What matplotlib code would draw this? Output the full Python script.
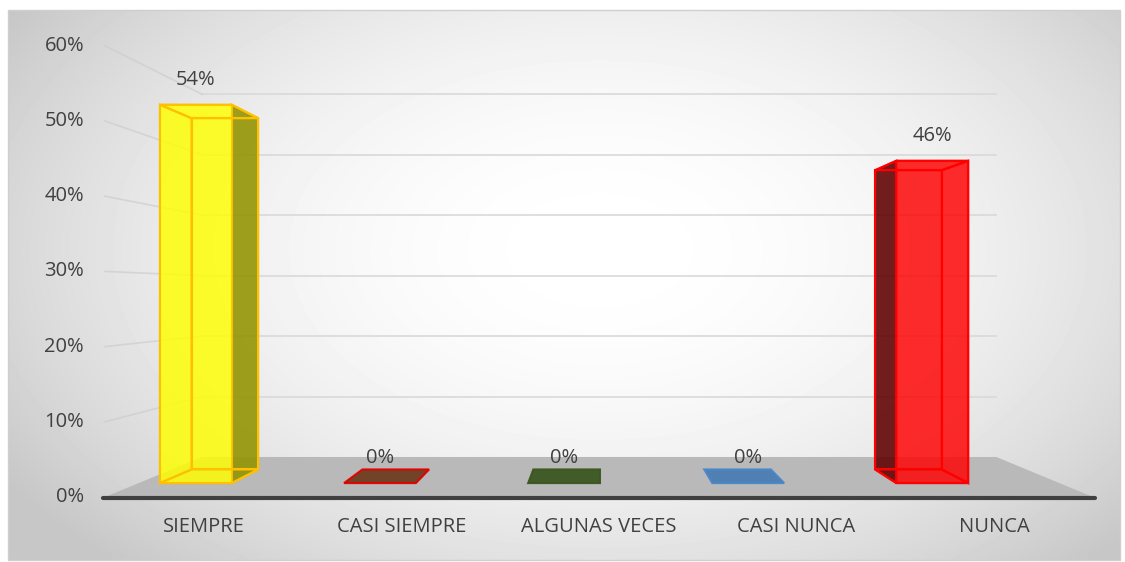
import numpy as np
import matplotlib.pyplot as plt
from matplotlib.patches import Polygon, Rectangle

# dati
categorie = ['SIEMPRE', 'CASI SIEMPRE', 'ALGUNAS VECES', 'CASI NUNCA', 'NUNCA']
valori = [0.54, 0.0, 0.0, 0.0, 0.46]
etichette = ['54%', '0%', '0%', '0%', '46%']
tick_y = [0.0, 0.1, 0.2, 0.3, 0.4, 0.5, 0.6]
tick_lab = ['0%', '10%', '20%', '30%', '40%', '50%', '60%']

# stile delle barre
col_faccia = ['#ffff00', '#6e3d1e', '#3b5720', '#4b7db3', '#ff0000']
col_lato = ['#8f8f00', '#6e3d1e', '#3b5720', '#4b7db3', '#5a0000']
col_bordo = ['#ffc000', '#e00000', '#3b5720', '#4a86c8', '#ff0000']

# parametri della prospettiva (pixel)
X0, DX = 105, 197.6       # bordo anteriore del pavimento, larghezza categoria
Y0, KY = 497, 752         # zero e scala verticale sul piano anteriore
VX, VY = 600, 293         # punto di fuga
PROF = 0.244              # profondita'
SPOST = -0.19             # spostamento delle barre nella categoria
LARG = 0.39               # larghezza barra
Z0, Z1 = 0.30, 0.64       # profondita' delle barre


def proj(u, v, z):
    xf = X0 + DX * u
    yf = Y0 - KY * v
    s = 1.0 / (1.0 + PROF * z)
    return (VX + (xf - VX) * s, VY + (yf - VY) * s)


W, H = 1125, 562
fig = plt.figure(figsize=(W / 100, H / 100), dpi=100)
ax = fig.add_axes([0, 0, 1, 1])
ax.set_xlim(0, W)
ax.set_ylim(H, 0)
ax.axis('off')

# sfondo con gradiente radiale
xx, yy = np.meshgrid(np.linspace(8, 1120, 300), np.linspace(10, 560, 150))
d = np.sqrt(((xx - 600) / 620) ** 2 + ((yy - 250) / 380) ** 2)
grad = np.clip(1 - 0.17 * d ** 2, 0.78, 1)
ax.imshow(grad, cmap='gray', vmin=0, vmax=1, extent=(8, 1120, 560, 10),
          aspect='auto', zorder=0, interpolation='bilinear')
ax.add_patch(Rectangle((8, 10), 1112, 550, fill=False, ec='#cfcfcf', lw=1, zorder=1))

# griglia su parete di fondo e parete laterale
for v in tick_y[1:]:
    p1, p2 = proj(0, v, 1), proj(5, v, 1)
    ax.plot([p1[0], p2[0]], [p1[1], p2[1]], color='#d9d9d9', lw=1.2, zorder=2)
    q1 = proj(0, v, 0)
    ax.plot([q1[0], p1[0]], [q1[1], p1[1]], color='#cdcdcd', lw=1.2, alpha=0.7, zorder=2)

# pavimento
pav = [proj(0, 0, 0), proj(5, 0, 0), proj(5, 0, 1), proj(0, 0, 1)]
ax.add_patch(Polygon(pav, closed=True, fc='#b9b9b9', ec='none', zorder=3))
a, b = proj(0, 0, 0), proj(5, 0, 0)
ax.plot([a[0] - 2, b[0] + 2], [a[1] + 1, b[1] + 1], color='#404040', lw=3, zorder=4,
        solid_capstyle='round')

# etichette asse y
for v, t in zip(tick_y, tick_lab):
    p = proj(0, v, 0)
    ax.text(84, p[1], t, ha='right', va='center', fontsize=14.5,
            family='Open Sans', color='#404040', zorder=5)

# etichette categorie
for i, c in enumerate(categorie):
    p = proj(i + 0.5, 0, 0)
    ax.text(p[0], 527, c, ha='center', va='center', fontsize=14.5,
            family='Open Sans', color='#404040', zorder=5)

# barre
for i, h in enumerate(valori):
    u0 = i + 0.5 + SPOST - LARG / 2
    u1 = u0 + LARG
    fc, sc, ec = col_faccia[i], col_lato[i], col_bordo[i]
    if h <= 0:
        top = [proj(u0, 0, Z0), proj(u1, 0, Z0), proj(u1, 0, Z1), proj(u0, 0, Z1)]
        ax.add_patch(Polygon(top, closed=True, fc=fc, ec=ec, lw=1.5, alpha=0.95, zorder=6))
    else:
        retro = [proj(u0, 0, Z1), proj(u1, 0, Z1), proj(u1, h, Z1), proj(u0, h, Z1)]
        fondo = [proj(u0, 0, Z0), proj(u1, 0, Z0), proj(u1, 0, Z1), proj(u0, 0, Z1)]
        cima = [proj(u0, h, Z0), proj(u1, h, Z0), proj(u1, h, Z1), proj(u0, h, Z1)]
        sin = [proj(u0, 0, Z0), proj(u0, 0, Z1), proj(u0, h, Z1), proj(u0, h, Z0)]
        des = [proj(u1, 0, Z0), proj(u1, 0, Z1), proj(u1, h, Z1), proj(u1, h, Z0)]
        fronte = [proj(u0, 0, Z0), proj(u1, 0, Z0), proj(u1, h, Z0), proj(u0, h, Z0)]
        centro = proj(i + 0.5 + SPOST, 0, Z0)[0]
        if centro < VX:
            nascosto, visibile = sin, des
        else:
            nascosto, visibile = des, sin
        for f in [retro, fondo, cima, nascosto]:
            ax.add_patch(Polygon(f, closed=True, fc=fc, ec=ec, lw=1.5, alpha=0.2, zorder=6))
        ax.add_patch(Polygon(visibile, closed=True, fc=sc, ec=ec, lw=1.5, alpha=0.85, zorder=7))
        ax.add_patch(Polygon(fronte, closed=True, fc=fc, ec=ec, lw=1.5, alpha=0.78, zorder=8))
        for f in [retro, fondo, cima, nascosto]:
            ax.add_patch(Polygon(f, closed=True, fill=False, ec=ec, lw=1.5, zorder=9))

    # etichetta dati
    p = proj(i + 0.5 + SPOST, h, Z0)
    ax.text(p[0], p[1] - 25, etichette[i], ha='center', va='center', fontsize=14.5,
            family='Open Sans', color='#404040', zorder=10)

fig.savefig('out.png', dpi=100, facecolor='white')
